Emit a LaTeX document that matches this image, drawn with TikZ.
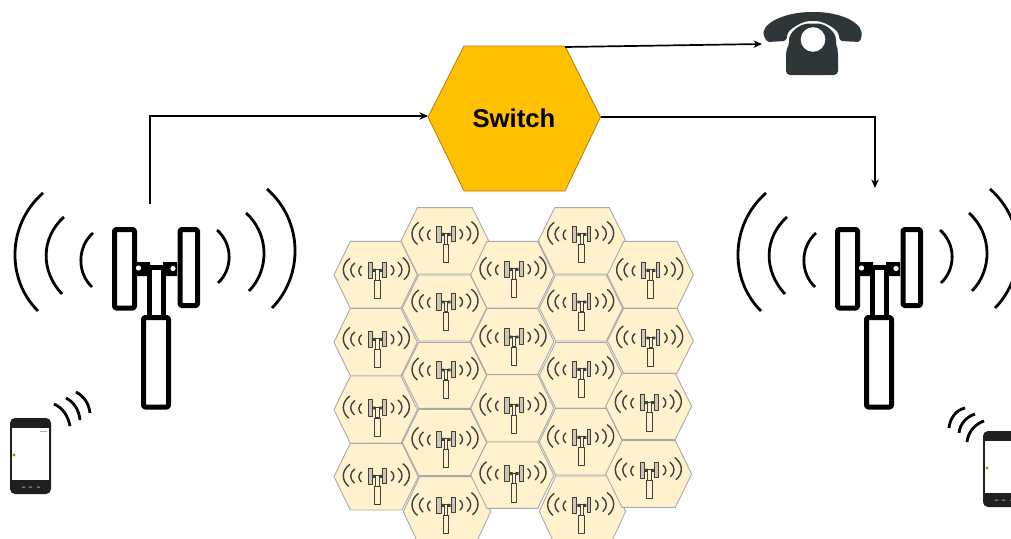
\documentclass[tikz,border=0pt]{standalone}
\usepackage{fontspec}
\setmainfont{Liberation Sans}
\usetikzlibrary{arrows.meta}
\definecolor{swfill}{HTML}{FFC000}
\definecolor{swline}{HTML}{B97A1E}
\definecolor{cellfill}{HTML}{FFF2CC}
\definecolor{cellline}{HTML}{A9A9A9}
\definecolor{telcol}{HTML}{2F3639}
\definecolor{minipanel}{HTML}{CFC7B2}
\definecolor{miniline}{HTML}{3F3F3F}
\tikzset{
  conn/.style={draw=black,line width=1.7pt,-{Stealth[length=8.5pt,width=7.5pt]}},
  wave/.style={line width=2.8pt,line cap=butt},
  swhex/.style={draw=swline,line width=.8pt,fill=swfill},
  cellhex/.style={draw=cellline,line width=.9pt,fill=cellfill},
}
% tower body, local pixel coordinates; #1 line width, #2 line colour, #3 panel fill, #4 mast fill, #5 corner radius
\newcommand\towerbody[5]{%
  \fill[#2] (137,262) rectangle (150,276) (163,262) rectangle (177,276) (149,265) rectangle (164,270);
  \draw[#2,line width=#1,fill=#4] (149.5,267) rectangle (163.5,317);
  \draw[#2,line width=#1,fill=#3,rounded corners=#5,line join=round] (114.5,229.5) rectangle (134.5,308);
  \draw[#2,line width=#1,fill=#3,rounded corners=#5,line join=round] (180,229.5) rectangle (197.5,305.5);
  \draw[#2,line width=#1,fill=#4,rounded corners=#5,line join=round] (143.5,317.5) rectangle (168.5,407);
}
\newcommand\towerarcs[2]{%
  \draw[#2,line width=#1]
    (93,233) .. controls (77,247) and (77,273) .. (92,287)
    (64,217) .. controls (40.5,238) and (40.5,271) .. (62,294)
    (43,193) .. controls (6.5,225) and (6.5,280) .. (38,311)
    (217,230) .. controls (233,244) and (233,269) .. (218,283)
    (246,213) .. controls (269.5,234) and (269.5,270) .. (249,291)
    (267,189) .. controls (303.5,221) and (303.5,276) .. (272,308);
}
\newcommand\bigtower[1]{%
  \begin{scope}[shift={(#1,0)}]
    \towerbody{5pt}{black}{white}{white}{1.5pt}
    \fill[white] (138.5,268) circle (2.6) (173,268.5) circle (2.6);
    \towerarcs{2.8pt}{black}
  \end{scope}}
% small tower in cell: x, y of panel top, in zoom units
\newcommand\minitower[2]{%
  \begin{scope}[shift={(#1,#2)},xscale=.67,yscale=.62,shift={(-156,-227)}]
    \towerbody{.9pt}{miniline}{minipanel}{cellfill}{0pt}
  \end{scope}
  \begin{scope}[shift={(#1-3,#2+22)},xscale=.707,yscale=.56,shift={(-155,-250)}]
    \towerarcs{1.4pt}{miniline}
  \end{scope}}
% cell: left, right, top, bottom, zoom units
\newcommand\cell[4]{%
  \draw[cellhex] (#1,{(#3+#4)/2}) -- (#1+49,#3) -- (#2-49,#3) -- (#2,{(#3+#4)/2}) -- (#2-49,#4) -- (#1+49,#4) -- cycle;}
\newcommand\phoneicon[2]{%
  \begin{scope}[shift={(#1,#2)}]
    \fill[black!88,rounded corners=5pt] (10,418) rectangle (51,494);
    \fill[white] (12,428) rectangle (49,480);
    \fill[green!60!black!70!yellow] (14,455) circle (1.6);
    \fill[gray!60] (40,431) rectangle (47,432);
    \fill[gray!70] (22,486.5) rectangle (25,487.5) (29,486.5) rectangle (32,487.5) (37,486.5) rectangle (40,487.5);
  \end{scope}}
\begin{document}
\begin{tikzpicture}[x=1pt,y=-1pt]
\useasboundingbox (0,0) rectangle (1011,538);
% connector end points
\coordinate (swW) at (428,116);
\coordinate (swE) at (600.5,117);
\coordinate (swNE) at (565,47);
\coordinate (telIn) at (762,44);
\coordinate (towerL) at (150,204);
\coordinate (towerR) at (875,188);
% cells
\begin{scope}[shift={(330,200)},scale=1/3]
  \foreach \l/\r/\t/\b in {12/262/124/325,12/262/325/528,12/262/528/730,12/265/730/930,
     213/476/23/222,217/470/225/423,217/470/427/625,217/470/628/827,220/482/830/1040,
     422/672/124/325,422/672/325/524,422/672/524/726,422/672/726/925,
     625/887/23/222,628/878/225/423,628/878/427/625,628/878/625/825,628/887/828/1040,
     832/1090/124/325,832/1090/325/520,827/1085/520/718,827/1085/722/922}
    {\cell{\l}{\r}{\t}{\b}}
  \foreach \x/\y in {142/185,142/392,142/598,142/803,
     348/77,348/280,348/484,348/692,348/890,
     552/182,552/385,552/590,552/795,
     755/77,755/280,755/482,755/686,755/890,
     962/185,962/388,958/582,958/785}
    {\minitower{\x}{\y}}
\end{scope}
% switch
\draw[swhex] (428,117) -- (464,46) -- (565,46) -- (600.5,117) -- (565,191) -- (464,191) -- cycle;
\node[font=\fontsize{25.7}{30}\selectfont\bfseries,inner sep=0pt] (switch) at (514,118) {Switch};
% towers
\bigtower{0}
\bigtower{723}
% telephone
\fill[telcol,rounded corners=2pt] (763,34) .. controls (766,20) and (790,12) .. (813,12)
   .. controls (836,12) and (859,20) .. (862,34) -- (860,42) -- (840,41) -- (838,32)
   .. controls (830,25) and (822,21) .. (813,21) .. controls (804,21) and (796,25) .. (788,32) -- (786,41) -- (767,42) -- cycle;
\fill[white] (813,50) circle (27);
\fill[telcol,rounded corners=4pt] (786,75) -- (786,50) -- (789,46) -- (789,44)
   .. controls (789,32) and (800,23.5) .. (813,23.5) .. controls (826,23.5) and (836,32) .. (836,44)
   -- (836,46) -- (838,50) -- (838,75) -- cycle;
\fill[white] (813,39.5) circle (12.3);
% phones
\phoneicon{0}{0}
\draw[black,wave] (54,404) .. controls (63,408) and (68,416) .. (70,426);
\draw[black,wave] (66,398) .. controls (74,402) and (79,410) .. (80,420);
\draw[black,wave] (76,392) .. controls (84,396) and (89,404) .. (90,413);
\phoneicon{973}{13}
\draw[black,wave] (965,408) .. controls (956,410) and (950,418) .. (949,428);
\draw[black,wave] (975,414) .. controls (966,417) and (960,424) .. (959,433);
\draw[black,wave] (984,421) .. controls (975,424) and (968,432) .. (967,442);
% connectors
\draw[conn] (towerL) |- (swW);
\draw[conn] (swE) -| (towerR);
\draw[conn] (swNE) -- (telIn);
\end{tikzpicture}
\end{document}
